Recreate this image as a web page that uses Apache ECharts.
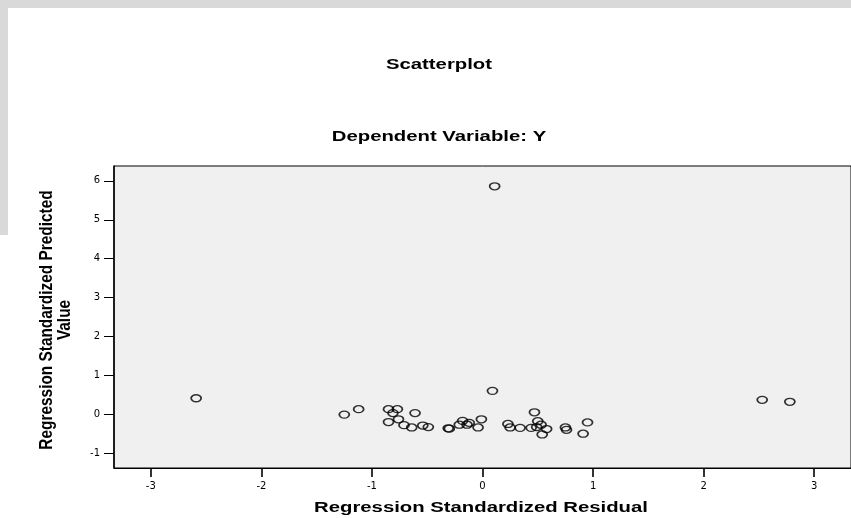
<!DOCTYPE html>
<html>
<head>
<meta charset="utf-8">
<script src="https://cdn.jsdelivr.net/npm/echarts@6/dist/echarts.min.js"></script>
<style>
html,body{margin:0;padding:0;background:#fff;}
#c{width:851px;height:518px;}
</style>
</head>
<body>
<div id="c"></div>
<script>
// Regression Standardized Residual (x) and Regression Standardized Predicted Value (y)
const residual = [0.11, 0.09, -2.59, 2.53, 2.78, -1.25, -1.12, -0.85, -0.77, -0.81, -0.61, -0.85, -0.76, -0.71, -0.64, -0.54, -0.49, -0.31, -0.30, -0.21, -0.18, -0.14, -0.12, -0.04, -0.01, 0.23, 0.25, 0.34, 0.44, 0.47, 0.50, 0.49, 0.53, 0.58, 0.54, 0.75, 0.76, 0.91, 0.95];
const predicted = [5.86, 0.61, 0.42, 0.38, 0.33, 0.00, 0.14, 0.14, 0.14, 0.04, 0.04, -0.19, -0.12, -0.27, -0.33, -0.28, -0.32, -0.35, -0.36, -0.26, -0.16, -0.26, -0.21, -0.33, -0.12, -0.24, -0.33, -0.34, -0.34, 0.06, -0.17, -0.32, -0.26, -0.37, -0.51, -0.33, -0.39, -0.49, -0.20];
const xTicks = [-3, -2, -1, 0, 1, 2, 3];
const yTicks = [-1, 0, 1, 2, 3, 4, 5, 6];
const chartTitle = 'Scatterplot';
const chartSubtitle = 'Dependent Variable: Y';
const xName = 'Regression Standardized Residual';
const yName1 = 'Regression Standardized Predicted';
const yName2 = 'Value';

const points = residual.map((x, i) => [x, predicted[i]]);
const FONT = '"Liberation Sans", Arial, sans-serif';
const STRETCH = 1.45;

const chart = echarts.init(document.getElementById('c'), null, {renderer: 'canvas'});
chart.setOption({
  animation: false,
  backgroundColor: '#ffffff',
  grid: {
    left: 114, top: 166, width: 738, height: 302,
    show: true, backgroundColor: '#f0f0f0', borderColor: '#000', borderWidth: 1
  },
  xAxis: {
    type: 'value', min: -3.333, max: 3.333,
    splitLine: {show: false},
    axisLine: {show: true, onZero: false, lineStyle: {color: '#000', width: 1}},
    axisTick: {show: true, inside: false, length: 9, customValues: xTicks, lineStyle: {color: '#000', width: 1.6}},
    axisLabel: {show: true, margin: 13, customValues: xTicks, color: '#000', fontSize: 10, fontFamily: '"DejaVu Sans", sans-serif'}
  },
  yAxis: {
    type: 'value', min: -1.37, max: 6.38,
    splitLine: {show: false},
    axisLine: {show: true, onZero: false, lineStyle: {color: '#000', width: 1.5}},
    axisTick: {show: true, inside: false, length: 10, customValues: yTicks, lineStyle: {color: '#000', width: 1}},
    axisLabel: {show: true, margin: 14, customValues: yTicks, color: '#000', fontSize: 10, fontFamily: '"DejaVu Sans", sans-serif'}
  },
  series: [{
    type: 'scatter',
    data: points,
    symbol: 'circle',
    symbolSize: [10, 7],
    itemStyle: {color: 'rgba(0,0,0,0)', borderColor: '#000', borderWidth: 1.5}
  }],
  graphic: [
    {type: 'rect', shape: {x: 0, y: 0, width: 851, height: 8}, style: {fill: '#d9d9d9'}, z: 0},
    {type: 'rect', shape: {x: 0, y: 0, width: 8, height: 235}, style: {fill: '#d9d9d9'}, z: 0},
    {type: 'text', x: 439, y: 65, scaleX: STRETCH, style: {text: chartTitle, font: 'bold 14px ' + FONT, fill: '#000', align: 'center', verticalAlign: 'middle'}},
    {type: 'text', x: 439, y: 137, scaleX: STRETCH, style: {text: chartSubtitle, font: 'bold 14px ' + FONT, fill: '#000', align: 'center', verticalAlign: 'middle'}},
    {type: 'text', x: 481, y: 508, scaleX: STRETCH, style: {text: xName, font: 'bold 14px ' + FONT, fill: '#000', align: 'center', verticalAlign: 'middle'}},
    {type: 'text', x: 47, y: 320, rotation: Math.PI / 2, scaleY: 1.35, scaleX: 1.1, style: {text: yName1, font: 'bold 14px ' + FONT, fill: '#000', align: 'center', verticalAlign: 'middle'}},
    {type: 'text', x: 65, y: 320, rotation: Math.PI / 2, scaleY: 1.35, scaleX: 1.1, style: {text: yName2, font: 'bold 14px ' + FONT, fill: '#000', align: 'center', verticalAlign: 'middle'}}
  ]
});
</script>
</body>
</html>
